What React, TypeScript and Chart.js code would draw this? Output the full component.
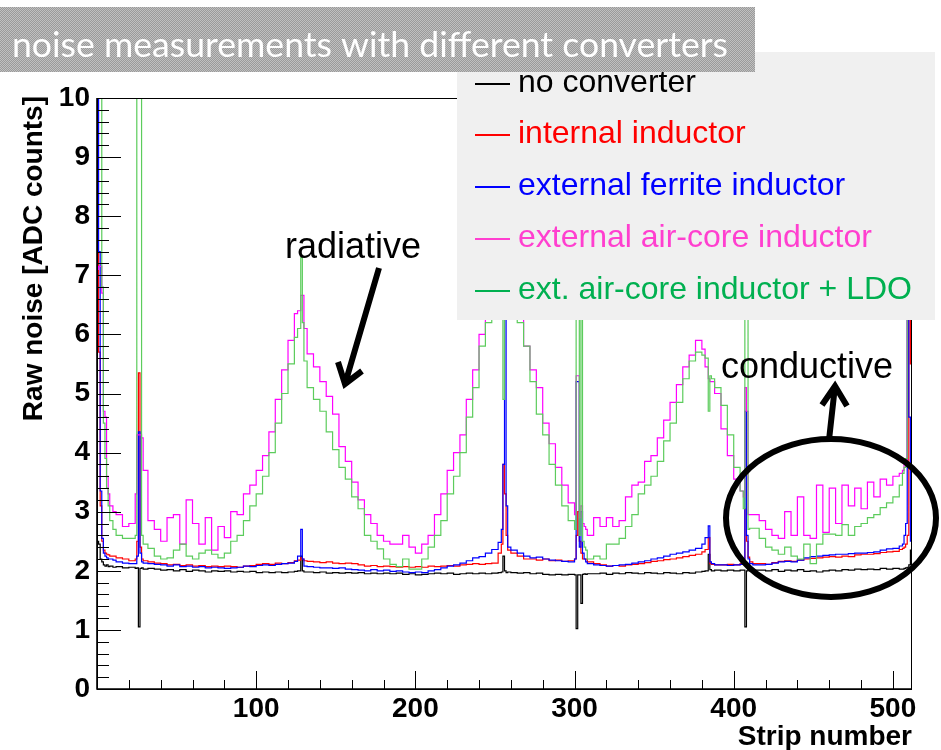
import React, { useEffect, useRef } from 'react';
import { Chart, registerables } from 'chart.js';
Chart.register(...registerables);

// ---- data (strip = lower edge of each step, value holds until the next strip) ----
const strips = [
  0,1,2,3,4,5,6,7,8,10,12,16,20,24,25,26,27,28,29,32,
  36,40,44,48,52,56,60,64,68,72,76,80,84,88,92,96,100,104,108,112,116,120,124,
  126,128,129,130,
  132,136,140,144,148,152,156,160,164,168,172,176,180,184,188,192,196,200,204,208,212,216,220,224,228,232,236,240,244,248,252,
  254,255,256,257,258,260,
  264,268,272,276,280,284,288,292,296,300,
  301,302,303,304,305,306,307,308,
  312,316,320,324,328,332,336,340,344,348,352,356,360,364,368,372,376,380,
  382,384,385,386,388,
  392,396,400,404,
  406,407,408,409,410,412,
  416,420,424,428,432,436,440,444,448,452,456,460,464,468,472,476,480,484,488,492,496,500,504,
  506,507,508,509,510,511,512,
];

const noConverter = [
  2.5,2.45,2.2,2.15,2.1,2.08,2.1,2.07,2.08,2.06,2.07,2.05,2.06,2.04,2.05,1.05,2.04,2.05,2.03,2.04,
  2.03,2.01,2.02,2.0,2.02,1.99,2.01,2.0,1.98,2.0,1.99,2.0,1.98,1.99,1.98,1.99,1.97,1.98,1.97,1.98,1.97,1.98,1.99,
  2.0,2.25,2.0,1.98,
  1.98,1.97,1.98,1.96,1.97,1.96,1.97,1.96,1.97,1.95,1.96,1.95,1.96,1.95,1.96,1.94,1.95,1.93,1.94,1.95,1.96,1.95,1.96,1.94,1.95,1.96,1.95,1.96,1.95,1.96,1.97,
  1.98,2.25,2.0,1.97,1.98,1.97,
  1.96,1.97,1.95,1.96,1.94,1.93,1.94,1.93,1.94,1.93,
  1.02,1.93,1.93,1.45,1.94,1.95,1.94,1.95,
  1.95,1.96,1.94,1.96,1.95,1.97,1.96,1.95,1.97,1.96,1.95,1.97,1.96,1.95,1.97,1.96,1.98,1.99,
  2.0,2.28,2.02,2.0,2.01,
  2.0,2.01,2.0,2.01,
  2.01,1.05,2.0,2.02,2.0,2.01,
  2.01,2.0,2.02,1.99,2.01,2.0,2.02,1.99,2.0,1.98,2.0,2.01,2.0,2.02,2.01,2.03,2.02,2.03,2.02,2.04,2.03,2.04,2.03,
  2.03,2.04,2.05,2.06,2.1,2.35,0,
];

const internalInductor = [
  7.4,5.7,3.1,2.5,2.35,2.3,2.28,2.27,2.25,2.25,2.22,2.2,2.17,2.2,2.5,5.35,2.4,2.2,2.17,2.15,
  2.13,2.12,2.1,2.11,2.09,2.1,2.08,2.09,2.07,2.08,2.07,2.08,2.07,2.06,2.08,2.09,2.11,2.12,2.11,2.13,2.12,2.14,2.17,
  2.18,2.22,2.2,2.17,
  2.16,2.15,2.14,2.15,2.13,2.12,2.13,2.12,2.1,2.08,2.09,2.07,2.08,2.07,2.06,2.07,2.06,2.07,2.06,2.08,2.07,2.08,2.09,2.08,2.1,2.11,2.12,2.11,2.12,2.13,2.3,
  2.45,3.8,3.3,2.6,2.35,2.3,
  2.25,2.2,2.2,2.18,2.2,2.17,2.18,2.16,2.17,2.2,
  2.6,3.0,2.5,2.3,2.2,2.2,2.2,2.15,
  2.12,2.1,2.08,2.09,2.08,2.1,2.11,2.12,2.14,2.16,2.17,2.19,2.2,2.22,2.24,2.26,2.28,2.32,
  2.36,2.56,2.12,2.11,2.1,
  2.1,2.11,2.1,2.12,
  2.15,3.05,2.5,2.23,2.15,2.12,
  2.12,2.11,2.14,2.16,2.17,2.16,2.18,2.2,2.21,2.22,2.23,2.24,2.23,2.25,2.24,2.27,2.28,2.28,2.29,2.31,2.32,2.33,2.36,
  2.38,2.4,2.45,2.6,7.0,5.5,0,
];

const externalFerrite = [
  11,7.4,3.35,2.55,2.3,2.25,2.22,2.2,2.2,2.18,2.15,2.13,2.12,2.12,2.25,4.35,2.3,2.15,2.13,2.12,
  2.11,2.1,2.08,2.1,2.07,2.08,2.06,2.07,2.05,2.06,2.05,2.04,2.05,2.06,2.08,2.07,2.09,2.1,2.09,2.11,2.12,2.13,2.16,
  2.25,2.7,2.2,2.08,
  2.07,2.06,2.05,2.05,2.04,2.05,2.03,2.02,2.01,2.0,2.02,2.0,2.01,1.99,2.0,1.98,1.97,1.98,1.97,2.0,2.02,2.05,2.08,2.1,2.13,2.17,2.22,2.24,2.3,2.36,2.48,
  2.7,3.8,8,3.1,2.4,2.35,
  2.3,2.25,2.22,2.23,2.2,2.18,2.17,2.16,2.15,2.2,
  5.2,5.2,2.4,3.0,2.3,2.2,2.15,2.12,
  2.1,2.09,2.08,2.09,2.1,2.11,2.13,2.15,2.17,2.2,2.22,2.25,2.28,2.3,2.32,2.35,2.38,2.45,
  2.56,2.76,2.15,2.12,2.1,
  2.1,2.09,2.1,2.11,
  2.2,4.7,2.6,2.2,2.12,2.1,
  2.1,2.11,2.13,2.15,2.16,2.15,2.18,2.22,2.24,2.25,2.26,2.27,2.28,2.28,2.29,2.3,2.3,2.31,2.32,2.35,2.37,2.38,2.42,
  2.45,2.6,2.8,8,4.6,2.5,0,
];

const externalAirCore = [
  7.1,7.15,7.15,6.7,4.7,4.6,3.6,3.3,3.1,3.0,2.95,2.75,2.8,3.3,4.3,4.3,4.3,4.25,3.7,2.85,
  2.7,2.5,2.9,2.95,2.45,3.2,2.8,2.45,2.9,2.35,2.75,2.56,3.0,2.95,3.3,3.45,3.7,3.95,4.35,4.9,5.4,5.9,6.35,
  6.4,6.66,6.66,6.1,
  5.67,5.45,5.2,4.95,4.65,4.1,3.85,3.5,3.2,2.95,2.8,2.6,2.5,2.45,2.45,2.6,2.4,2.3,2.45,2.6,2.95,3.3,3.7,4.0,4.3,4.9,5.4,6.0,6.4,6.7,6.9,
  6.9,7.0,7.0,7.0,6.9,6.8,
  6.3,5.8,5.4,5.1,4.5,4.15,3.75,3.45,3.15,2.95,
  5.3,5.3,2.9,3.1,2.8,2.75,2.7,2.6,
  2.9,2.75,2.9,2.75,2.85,3.25,3.45,3.5,3.85,3.95,4.25,4.55,4.85,5.15,5.45,5.65,5.9,5.75,
  5.45,5.25,5.2,5.2,5.0,
  4.4,3.95,3.55,3.35,
  3.25,5.1,4.7,2.95,2.95,2.95,
  2.85,2.7,2.6,2.55,3.0,2.6,3.25,2.6,2.55,3.45,2.65,3.4,2.8,3.45,3.1,3.4,3.05,3.5,3.25,3.55,3.45,3.6,3.65,
  3.7,3.8,3.85,8,7,6.5,0,
];

const airCoreLDO = [
  11,11,11,6.8,4.5,3.9,3.4,3.1,2.85,2.7,2.6,2.55,2.55,2.6,11,11,11,2.6,2.45,2.38,
  2.25,2.2,2.22,2.35,2.45,2.25,2.2,2.3,2.35,2.28,2.22,2.3,2.5,2.6,2.85,3.1,3.3,3.6,4.0,4.5,5.0,5.5,5.95,
  6.1,7.3,6.2,5.55,
  5.1,4.9,4.7,4.35,4.05,3.75,3.55,3.25,3.05,2.6,2.5,2.37,2.2,2.11,2.07,2.2,2.03,2.03,2.2,2.4,2.6,2.85,3.3,3.6,4.0,4.6,5.1,5.8,6.2,6.5,6.8,
  6.8,4.9,8,7,6.9,6.7,
  6.2,5.8,5.2,4.65,4.3,3.8,3.45,3.1,2.85,2.7,
  10,10,2.6,10,2.5,2.4,2.35,2.2,
  2.25,2.2,2.45,2.45,2.55,2.75,2.95,3.3,3.45,3.6,3.85,4.2,4.5,4.85,5.25,5.55,5.7,5.65,
  5.6,4.7,5.3,5.25,5.1,
  4.8,4.3,3.75,3.35,
  3.05,10,10,2.7,2.72,2.72,
  2.55,2.4,2.35,2.28,2.4,2.25,2.2,2.45,2.12,2.45,2.62,2.62,2.6,2.78,2.6,2.75,2.8,2.9,2.95,3.07,3.15,3.25,3.45,
  3.65,3.75,3.9,9,7,6.5,0,
];

const seriesLabels = [
  'no converter',
  'internal inductor',
  'external ferrite inductor',
  'external air-core inductor',
  'ext. air-core inductor + LDO',
];
const lineColors = ['#000000', '#ff0000', '#0000ff', '#ff00ff', '#5ccc5c'];
const legendColors = ['#000000', '#ff0000', '#0000ff', '#ff3fcf', '#00b050'];

const xTickValues = [100, 200, 300, 400, 500];
const yTickValues = [0, 1, 2, 3, 4, 5, 6, 7, 8, 9, 10];

const titleText = 'noise measurements with different converters';
const xTitle = 'Strip number';
const yTitle = 'Raw noise [ADC counts]';

const SANS = '"Liberation Sans", Arial, sans-serif';

function arrow(ctx: CanvasRenderingContext2D, x1: number, y1: number, x2: number, y2: number, w1: [number, number], w2: [number, number]) {
  ctx.beginPath();
  ctx.moveTo(x1, y1);
  ctx.lineTo(x2, y2);
  ctx.moveTo(w1[0], w1[1]);
  ctx.lineTo(x2, y2);
  ctx.lineTo(w2[0], w2[1]);
  ctx.stroke();
}

const overlayPlugin = {
  id: 'rootOverlay',
  afterDatasetsDraw(chart: any) {
    const { ctx, chartArea: a, scales } = chart;
    const x = scales.x;
    const y = scales.y;
    ctx.save();
    ctx.strokeStyle = '#000';
    ctx.lineWidth = 1;
    ctx.strokeRect(a.left + 0.5, a.top + 0.5, a.right - a.left - 1, a.bottom - a.top);
    ctx.lineWidth = 1.6;
    ctx.beginPath();
    ctx.moveTo(a.left, a.top);
    ctx.lineTo(a.left, a.bottom);
    ctx.lineTo(a.right, a.bottom);
    ctx.stroke();
    ctx.lineWidth = 1;
    ctx.beginPath();
    for (let v = 0; v <= 512; v += 20) {
      const px = Math.round(x.getPixelForValue(v)) + 0.5;
      const len = v % 100 === 0 ? 18 : 9;
      ctx.moveTo(px, a.bottom);
      ctx.lineTo(px, a.bottom - len);
    }
    for (let i = 0; i <= 50; i++) {
      const py = Math.round(y.getPixelForValue(i / 5)) + 0.5;
      const len = i % 5 === 0 ? 24 : 12;
      ctx.moveTo(a.left, py);
      ctx.lineTo(a.left + len, py);
    }
    ctx.stroke();
    ctx.restore();
  },
  afterDraw(chart: any) {
    const { ctx } = chart;
    ctx.save();
    // axis titles
    ctx.fillStyle = '#000';
    ctx.font = `bold 28px ${SANS}`;
    ctx.textAlign = 'right';
    ctx.textBaseline = 'alphabetic';
    ctx.fillText(xTitle, 912, 745);
    ctx.save();
    ctx.translate(42, 96);
    ctx.rotate(-Math.PI / 2);
    ctx.textAlign = 'right';
    ctx.fillText(yTitle, 0, 0);
    ctx.restore();

    // legend box
    ctx.fillStyle = '#f0f0f0';
    ctx.fillRect(457, 52, 478, 268);
    ctx.font = `32px ${SANS}`;
    ctx.textAlign = 'left';
    ctx.textBaseline = 'middle';
    const rowY = [83, 134, 186, 238, 290];
    seriesLabels.forEach((lab, i) => {
      ctx.strokeStyle = legendColors[i];
      ctx.lineWidth = 2;
      ctx.beginPath();
      ctx.moveTo(475, rowY[i] + 1);
      ctx.lineTo(510, rowY[i] + 1);
      ctx.stroke();
      ctx.fillStyle = legendColors[i];
      ctx.fillText(lab, 518, rowY[i]);
    });

    // title banner with dotted texture
    const pc = document.createElement('canvas');
    pc.width = 2; pc.height = 2;
    const p = pc.getContext('2d')!;
    p.fillStyle = '#9a9a9a';
    p.fillRect(0, 0, 2, 2);
    p.fillStyle = '#c0c0c0';
    p.fillRect(0, 0, 1, 1);
    p.fillRect(1, 1, 1, 1);
    const pat = ctx.createPattern(pc, 'repeat');
    ctx.fillStyle = pat || '#a8a8a8';
    ctx.fillRect(0, 7, 755, 65);
    ctx.fillStyle = '#ffffff';
    ctx.textBaseline = 'alphabetic';
    ctx.font = `32px Lato, "Open Sans", sans-serif`;
    const w = ctx.measureText(titleText).width;
    const fs = 32 * 716 / w;
    ctx.font = `${fs.toFixed(2)}px Lato, "Open Sans", sans-serif`;
    ctx.fillText(titleText, 12, 57);

    // annotations
    ctx.fillStyle = '#000';
    ctx.font = `36px ${SANS}`;
    ctx.fillText('radiative', 285, 258);
    ctx.fillText('conductive', 721, 378);
    ctx.strokeStyle = '#000';
    ctx.lineWidth = 6;
    ctx.lineJoin = 'miter';
    ctx.lineCap = 'butt';
    arrow(ctx, 379, 268, 345, 384, [338, 362], [362, 371]);
    arrow(ctx, 829, 440, 835, 386, [822, 405], [847, 406]);
    ctx.beginPath();
    ctx.ellipse(831, 518, 105, 79, 0, 0, Math.PI * 2);
    ctx.stroke();
    ctx.restore();
  },
};

export default function App() {
  const ref = useRef<HTMLCanvasElement>(null);
  useEffect(() => {
    document.body.style.margin = '0';
    const canvas = ref.current!;
    const series = [noConverter, internalInductor, externalFerrite, externalAirCore, airCoreLDO];
    const datasets = series.map((vals, i) => ({
      label: seriesLabels[i],
      data: strips.map((s, j) => ({ x: s, y: vals[j] })),
      borderColor: lineColors[i],
      backgroundColor: lineColors[i],
      borderWidth: 1.2,
      pointRadius: 0,
      stepped: 'before' as const,
      fill: false,
      clip: 0,
      order: 5 - i,
    }));
    const tickFont = { family: SANS, weight: 'bold' as const, size: 28 };
    const chart = new Chart(canvas, {
      type: 'line',
      data: { datasets },
      options: {
        animation: false,
        responsive: false,
        devicePixelRatio: 1,
        events: [],
        layout: { padding: { left: 0, top: 98, right: 29, bottom: 0 } },
        plugins: { legend: { display: false }, tooltip: { enabled: false } },
        scales: {
          x: {
            type: 'linear',
            min: 0,
            max: 512,
            afterFit: (s: any) => { s.height = 61; },
            afterBuildTicks: (s: any) => { s.ticks = xTickValues.map((v) => ({ value: v })); },
            grid: { display: false, drawTicks: false },
            border: { display: false },
            ticks: { autoSkip: false, maxRotation: 0, padding: 3, color: '#000', font: tickFont },
          },
          y: {
            type: 'linear',
            min: 0,
            max: 10,
            afterFit: (s: any) => { s.width = 97; },
            afterBuildTicks: (s: any) => { s.ticks = yTickValues.map((v) => ({ value: v })); },
            grid: { display: false, drawTicks: false },
            border: { display: false },
            ticks: { autoSkip: false, padding: 7, color: '#000', font: tickFont },
          },
        },
      },
      plugins: [overlayPlugin],
    } as any);
    return () => chart.destroy();
  }, []);
  return <canvas ref={ref} width={941} height={750} style={{ display: 'block' }} />;
}
